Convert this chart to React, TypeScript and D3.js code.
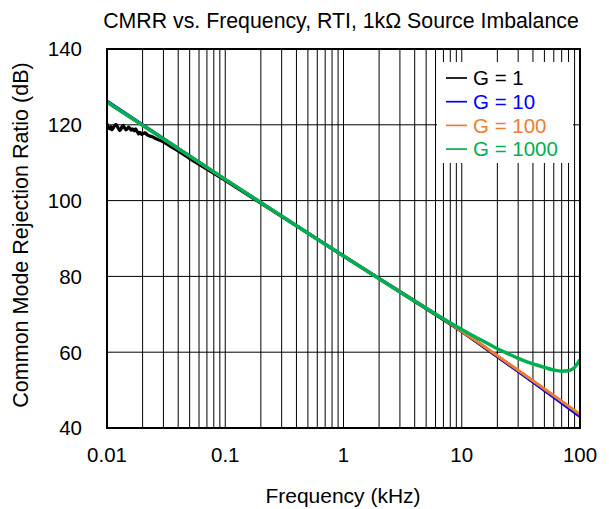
import React from "react";
import * as d3 from "d3";

const title = "CMRR vs. Frequency, RTI, 1kΩ Source Imbalance";
const xTitle = "Frequency (kHz)";
const yTitle = "Common Mode Rejection Ratio (dB)";
const xTicks = [0.01, 0.1, 1, 10, 100];
const xTickLabels = ["0.01", "0.1", "1", "10", "100"];
const yTicks = [40, 60, 80, 100, 120, 140];

const g1Freq = [0.01, 0.0102, 0.0105, 0.0108, 0.011, 0.0113, 0.0116, 0.0119, 0.0122, 0.0125, 0.0128, 0.0131, 0.0134, 0.0137, 0.014, 0.0144, 0.0148, 0.0152, 0.0156, 0.016, 0.0165, 0.017, 0.0175, 0.018, 0.0185, 0.019, 0.0196, 0.02, 0.021, 0.022, 0.023, 0.024, 0.025, 0.026, 0.028, 0.03, 0.033, 0.035, 0.04, 0.05, 0.07, 0.1, 0.2, 1, 10, 100];
const g1Db = [120.3, 119.4, 119.0, 119.5, 118.7, 119.2, 119.8, 120.1, 119.6, 119.0, 118.5, 118.8, 119.5, 119.8, 119.3, 118.7, 118.9, 119.4, 119.1, 118.6, 118.9, 118.4, 118.9, 118.2, 117.6, 118.0, 117.5, 117.6, 117.9, 117.3, 117.0, 116.9, 116.6, 116.3, 115.9, 115.5, 114.7, 114.2, 113.1, 111.1, 108.3, 105.3, 99.3, 85.4, 65.5, 43.4];

const g10Freq = [0.01, 0.1, 1, 10, 100];
const g10Db = [126.3, 105.6, 85.4, 65.5, 43.0];

const g100Freq = [0.01, 0.1, 1, 10, 100];
const g100Db = [126.0, 105.6, 85.4, 65.5, 43.6];

const g1000Freq = [0.01, 0.1, 1, 10, 12, 15, 20, 25, 30, 40, 50, 60, 70, 80, 90, 100];
const g1000Db = [126.0, 105.6, 85.4, 66.0, 64.6, 63.0, 60.9, 59.5, 58.4, 56.9, 56.0, 55.3, 55.0, 55.1, 56.0, 58.0];

const seriesNames = ["G = 1", "G = 10", "G = 100", "G = 1000"];
const seriesColors = ["#000000", "#0000FF", "#ED7D31", "#00B050"];
const seriesWidths = [3.2, 3, 3, 3.5];

export default function App() {
  const W = 609, H = 509;
  const left = 107, right = 580, top = 49, bottom = 428;
  const x = d3.scaleLog().domain([0.01, 100]).range([left, right]);
  const y = d3.scaleLinear().domain([40, 140]).range([bottom, top]);
  const font = "Liberation Sans, Arial, sans-serif";

  const minor: number[] = [];
  for (let d = -2; d < 2; d++) {
    for (let k = 1; k <= 9; k++) minor.push(k * Math.pow(10, d));
  }
  minor.push(100);

  const lineLin = d3
    .line<[number, number]>()
    .x((p) => x(p[0]))
    .y((p) => y(p[1]));
  const lineSmooth = d3
    .line<[number, number]>()
    .x((p) => x(p[0]))
    .y((p) => y(p[1]))
    .curve(d3.curveMonotoneX);

  const series: [number, number][][] = [
    g1Freq.map((f, i) => [f, g1Db[i]]),
    g10Freq.map((f, i) => [f, g10Db[i]]),
    g100Freq.map((f, i) => [f, g100Db[i]]),
    g1000Freq.map((f, i) => [f, g1000Db[i]]),
  ];

  const legX = 437, legY = 62, legW = 136, legH = 101;

  return (
    <svg width={W} height={H} style={{ position: "absolute", left: 0, top: 0, background: "#fff" }}>
      <rect x={0} y={0} width={W} height={H} fill="#fff" />
      <defs>
        <clipPath id="plot">
          <rect x={left} y={top} width={right - left} height={bottom - top} />
        </clipPath>
      </defs>
      {minor.map((v, i) => (
        <line key={"vx" + i} x1={x(v)} x2={x(v)} y1={top} y2={bottom} stroke="#000" strokeWidth={1} />
      ))}
      {yTicks.map((v, i) => (
        <line key={"hy" + i} x1={left} x2={right} y1={y(v)} y2={y(v)} stroke="#000" strokeWidth={1} />
      ))}
      <rect x={legX} y={legY} width={legW} height={legH} fill="#fff" />
      <g clipPath="url(#plot)">
        {series.map((s, i) => (
          <path
            key={"s" + i}
            d={(i === 0 ? lineLin(s) : lineSmooth(s)) || ""}
            fill="none"
            stroke={seriesColors[i]}
            strokeWidth={seriesWidths[i]}
            strokeLinejoin="round"
          />
        ))}
      </g>
      <rect x={left} y={top} width={right - left} height={bottom - top} fill="none" stroke="#000" strokeWidth={2} />
      {seriesNames.map((n, i) => {
        const cy = 78 + i * 23.7;
        return (
          <g key={"lg" + i}>
            <line x1={446} x2={467} y1={cy} y2={cy} stroke={seriesColors[i]} strokeWidth={1.7} />
            <text x={473} y={cy} dy="0.36em" fontFamily={font} fontSize={20.5} fill={seriesColors[i]}>
              {n}
            </text>
          </g>
        );
      })}
      {yTicks.map((v, i) => (
        <text key={"yl" + i} x={82} y={y(v)} dy="0.36em" textAnchor="end" fontFamily={font} fontSize={20.5} fill="#000">
          {v}
        </text>
      ))}
      {xTicks.map((v, i) => (
        <text key={"xl" + i} x={x(v)} y={454.5} dy="0.36em" textAnchor="middle" fontFamily={font} fontSize={20.5} fill="#000">
          {xTickLabels[i]}
        </text>
      ))}
      <text x={343} y={503} textAnchor="middle" fontFamily={font} fontSize={21} fill="#000">
        {xTitle}
      </text>
      <text transform={`translate(28,235) rotate(-90)`} textAnchor="middle" fontFamily={font} fontSize={21.5} fill="#000">
        {yTitle}
      </text>
      <text x={341} y={27.5} textAnchor="middle" fontFamily={font} fontSize={21.3} fill="#000">
        {title}
      </text>
    </svg>
  );
}
